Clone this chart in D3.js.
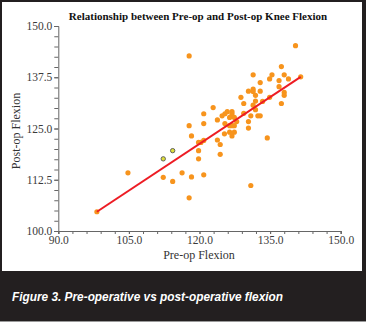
<!DOCTYPE html>
<html>
<head>
<meta charset="utf-8">
<title>Pre-op vs Post-op Knee Flexion</title>
<style>
  body { margin: 0; background: #231f20; }
  .title { font-family: "Liberation Serif", serif; font-size: 11px; font-weight: bold; fill: #111; }
  .axislabel { font-family: "Liberation Serif", serif; font-size: 12px; fill: #333; }
  .tick text { font-family: "Liberation Serif", serif; font-size: 11.5px; fill: #3a3a3a; }
  .caption { font-family: "Liberation Sans", sans-serif; font-size: 13.5px; font-weight: bold; font-style: italic; fill: #fff; }
</style>
<script src="https://d3js.org/d3.v7.min.js"></script>
</head>
<body>
<script>
// pre-op / post-op flexion (degrees)
var preOp = [98.2, 104.8, 112.3, 114.3, 116.3, 117.8, 118.3, 120.9, 119.8, 119.8,
             119.8, 120.3, 120.9, 123.8, 124.4, 124.4, 117.8, 118.3, 120.9, 120.9,
             122.9, 123.8, 124.8, 125.4, 125.9, 126.9, 126.9, 126.4, 127.4, 127.9,
             125.4, 126.4, 126.9, 127.4, 125.3, 126.4, 127.4, 126.9, 129.4, 129.4,
             130.4, 130.4, 130.9, 132.4, 132.9, 131.9, 134.4, 130.9, 137.4, 131.9,
             133.4, 131.4, 128.8, 134.9, 130.4, 131.4, 131.4, 132.9, 131.9, 132.9,
             136.9, 138.0, 138.0, 134.9, 136.9, 138.9, 141.5, 131.4, 135.4, 138.0,
             137.4, 140.4, 117.8];
var postOp = [104.7, 114.2, 113.1, 112.1, 114.2, 108.1, 113.2, 113.7, 117.6, 119.6,
              121.6, 121.6, 122.1, 122.2, 121.1, 118.7, 125.7, 123.2, 128.6, 126.2,
              130.1, 127.1, 128.1, 128.6, 129.1, 129.1, 128.6, 127.7, 127.7, 126.7,
              126.2, 125.7, 125.7, 125.7, 123.7, 124.1, 124.1, 123.2, 131.1, 128.7,
              126.7, 125.1, 128.1, 128.1, 128.1, 129.6, 122.7, 111.1, 131.1, 131.7,
              131.6, 130.7, 132.6, 132.6, 134.1, 134.6, 134.0, 134.1, 133.1, 136.2,
              135.2, 133.8, 133.1, 137.1, 136.7, 137.1, 137.6, 138.1, 138.1, 138.1,
              140.1, 145.2, 142.7];
// the two highlighted (open) points
var markedPre = [112.3, 114.3];
var markedPost = [117.6, 119.6];
// fitted line ends
var fitPre = [98.2, 141.5];
var fitPost = [104.7, 137.6];

var xLabelTicks = [90, 105, 120, 135, 150];
var yLabelTicks = [100, 112.5, 125, 137.5, 150];
var xMinorStep = 3, yMinorStep = 2.5;

var W = 366, H = 322;
var svg = d3.select("body").append("svg").attr("width", W).attr("height", H);

svg.append("rect").attr("width", W).attr("height", H).attr("fill", "#231f20");
svg.append("rect").attr("x", 0).attr("y", 321).attr("width", W).attr("height", 1).attr("fill", "#9a9a9a");
svg.append("rect").attr("x", 2).attr("y", 2).attr("width", 360).attr("height", 269).attr("fill", "#fff");

var x = d3.scaleLinear().domain([90, 150]).range([58.3, 340.7]);
var y = d3.scaleLinear().domain([100, 150]).range([231, 26]);

svg.append("text").attr("class", "title").attr("x", 198).attr("y", 20)
   .attr("text-anchor", "middle").text("Relationship between Pre-op and Post-op Knee Flexion");

// minor ticks
svg.append("g").attr("transform", "translate(0,231)")
   .call(d3.axisBottom(x).tickValues(d3.range(90, 150.01, xMinorStep)).tickSize(3).tickFormat(""))
   .call(function(g) { g.selectAll("line,path").attr("stroke", "#666"); });
svg.append("g").attr("transform", "translate(58.3,0)")
   .call(d3.axisLeft(y).tickValues(d3.range(100, 150.01, yMinorStep)).tickSize(4).tickFormat(""))
   .call(function(g) { g.selectAll("line,path").attr("stroke", "#666"); });

// labelled ticks
var xa = svg.append("g").attr("transform", "translate(0,231)")
   .call(d3.axisBottom(x).tickValues(xLabelTicks).tickSize(3).tickPadding(2).tickFormat(d3.format(".1f")));
xa.select(".domain").remove();
xa.selectAll("line").attr("stroke", "#666");
var ya = svg.append("g").attr("transform", "translate(58.3,0)")
   .call(d3.axisLeft(y).tickValues(yLabelTicks).tickSize(4).tickPadding(2).tickFormat(d3.format(".1f")));
ya.select(".domain").remove();
ya.selectAll("line").attr("stroke", "#666");

svg.append("text").attr("class", "axislabel").attr("x", 199).attr("y", 259)
   .attr("text-anchor", "middle").text("Pre-op Flexion");
svg.append("text").attr("class", "axislabel")
   .attr("transform", "translate(20,131) rotate(-90)")
   .attr("text-anchor", "middle").text("Post-op Flexion");

svg.append("g").selectAll("circle").data(preOp).enter().append("circle")
   .attr("cx", function(d) { return x(d); })
   .attr("cy", function(d, i) { return y(postOp[i]); })
   .attr("r", 2.6).attr("fill", "#f7941d");

svg.append("g").selectAll("circle").data(markedPre).enter().append("circle")
   .attr("cx", function(d) { return x(d); })
   .attr("cy", function(d, i) { return y(markedPost[i]); })
   .attr("r", 2.2).attr("fill", "#dede3a").attr("stroke", "#555").attr("stroke-width", 0.9);

svg.append("path")
   .datum(d3.zip(fitPre, fitPost))
   .attr("d", d3.line().x(function(d) { return x(d[0]); }).y(function(d) { return y(d[1]); }))
   .attr("stroke", "#ed1c24").attr("stroke-width", 2).attr("fill", "none");

svg.append("text").attr("class", "caption").attr("x", 12).attr("y", 301)
   .attr("textLength", 271).attr("lengthAdjust", "spacingAndGlyphs")
   .text("Figure 3. Pre-operative vs post-operative flexion");
</script>
</body>
</html>
